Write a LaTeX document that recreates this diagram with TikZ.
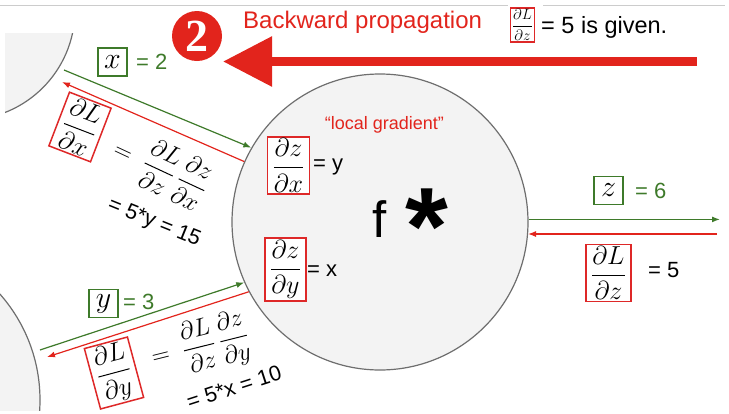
\RequirePackage{fix-cm}
\documentclass[tikz,border=0pt]{standalone}
\usepackage{amsmath}
\usepackage[no-math]{fontspec}
\setmainfont{Liberation Sans}
\newfontfamily\numfont{Liberation Serif}
\usepackage{tikz}
\usetikzlibrary{arrows.meta,positioning,calc}

\definecolor{bpred}{RGB}{226,36,28}
\definecolor{boxred}{RGB}{222,40,40}
\definecolor{fwdgreen}{RGB}{62,122,42}
\definecolor{gatefill}{RGB}{243,243,243}
\definecolor{gateline}{RGB}{110,110,110}

\tikzset{
  gatebody/.style={draw=gateline,fill=gatefill,line width=1.2pt},
  gate/.style={gatebody,circle,inner sep=0pt,minimum size=296pt},
  redbox/.style={draw=boxred,fill=white,line width=1.5pt,inner xsep=5pt,inner ysep=2pt,font=\fontsize{26}{30}\selectfont},
  smallbox/.style={redbox,inner sep=1.5pt,font=\fontsize{15}{18}\selectfont},
  greenbox/.style={draw=fwdgreen,line width=1.5pt,minimum width=29pt,minimum height=28pt,inner sep=0pt,font=\fontsize{30}{34}\selectfont},
  val/.style={anchor=base west,inner sep=0pt,font=\fontsize{22}{26}\selectfont},
  chain/.style={inner sep=0pt,font=\fontsize{25}{30}\selectfont},
  fwd/.style={draw=fwdgreen,line width=1.2pt,-{Latex[length=8pt,width=6pt]}},
  bwd/.style={draw=bpred,line width=1.2pt,-{Latex[length=8pt,width=6pt]}}
}

\begin{document}
\begin{tikzpicture}[x=1pt,y=-1pt]
\useasboundingbox (0,0) rectangle (729,413);
\draw[gray!40,line width=0.8pt] (0,5) -- (508,5) (543,5) -- (725,5);

\begin{scope}
  \clip (5,33) rectangle (200,200);
  \draw[gatebody] (-35,10) circle[radius=110];
\end{scope}
\begin{scope}
  \clip (0,250) rectangle (200,410);
  \draw[gatebody] (-120,400) circle[radius=160];
\end{scope}
\node[gate] (mul) at (380,222) {};

\coordinate (bstart) at (697,61.5);
\coordinate (bend) at (223,61.5);
\draw[bpred,line width=9pt,-{Triangle[length=49pt,width=48pt]}] (bstart) -- (bend);
\node[circle,fill=bpred,minimum size=50pt,inner sep=0pt,text=white,font=\fontsize{46}{46}\selectfont\numfont\bfseries] (two) at (197,36) {2};
\node[val,text=bpred,font=\fontsize{24}{28}\selectfont] (title) at (243,28) {Backward propagation};
\node[smallbox] (given) at (522.5,25) {$\displaystyle\frac{\partial L}{\partial z}$};
\node[val,font=\fontsize{23.5}{28}\selectfont] (giventxt) at (541,33) {= 5 is given.};

\coordinate (xin) at (64,70);
\coordinate (xback) at (62,82);
\coordinate (yin) at (40,350);
\coordinate (yback) at (47,357);
\coordinate (zout) at (720,219);
\coordinate (zback) at (717,234);
\draw[fwd] (xin) -- (mul.150);
\draw[bwd] (mul.156) -- (xback);
\draw[fwd] (yin) -- (mul.204);
\draw[bwd] (mul.208) -- (yback);
\draw[fwd] (mul.1) -- (mul.1 -| zout);
\draw[bwd] (zback) -- (zback -| mul.-5);

\node[val,text=bpred,anchor=base,font=\fontsize{18}{22}\selectfont] (local) at (384.5,129) {“local gradient”};
\node[redbox] (dzdx) at (288.5,165.5) {$\displaystyle\frac{\partial z}{\partial x}$};
\node[val] at (313,170) {= y};
\node[redbox] (dzdy) at (285.5,269.5) {$\displaystyle\frac{\partial z}{\partial y}$};
\node[val] at (307,276) {= x};
\node[val,font=\fontsize{51}{56}\selectfont] (fname) at (372,237) {f};
\node[val,font=\fontsize{110}{120}\selectfont\bfseries] (star) at (405,264) {*};

\node[greenbox] (zval) at (608.5,190.5) {$z$};
\node[val,text=fwdgreen] at (635,198) {= 6};
\node[redbox] (dLdz) at (608.5,273) {$\displaystyle\frac{\partial L}{\partial z}$};
\node[val] at (648,277) {= 5};

\node[greenbox] (xval) at (112.5,62) {$x$};
\node[val,text=fwdgreen] at (136,69) {= 2};
\node[redbox,rotate=-21] (dLdx) at (80,127) {$\displaystyle\frac{\partial L}{\partial x}$};
\node[chain,rotate=-25] (chainx) at (161,168) {$\displaystyle=\;\frac{\partial L}{\partial z}\,\frac{\partial z}{\partial x}$};
\node[chain,rotate=-22,font=\fontsize{21.5}{25}\selectfont] (resx) at (154,223) {= 5*y = 15};

\node[greenbox] (yval) at (103.5,303.5) {$y$};
\node[val,text=fwdgreen] at (123,309) {= 3};
\node[redbox,rotate=15] (dLdy) at (114,373) {$\displaystyle\frac{\partial L}{\partial y}$};
\node[chain,rotate=14] (chainy) at (200,347) {$\displaystyle=\;\frac{\partial L}{\partial z}\,\frac{\partial z}{\partial y}$};
\node[chain,rotate=18,font=\fontsize{21.5}{25}\selectfont] (resy) at (234,387) {= 5*x = 10};
\end{tikzpicture}
\end{document}
